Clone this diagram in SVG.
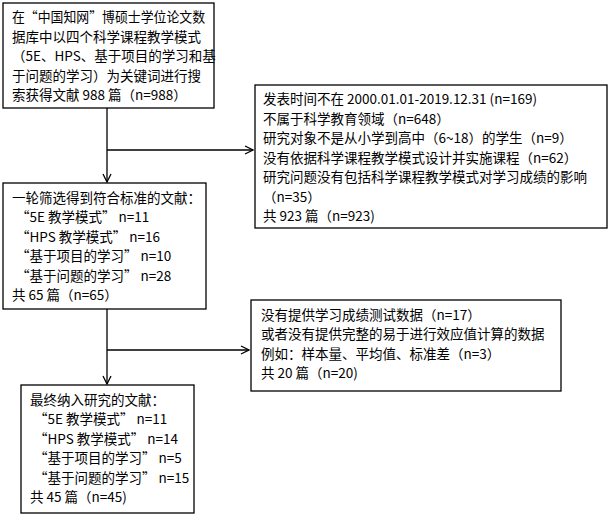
<svg xmlns="http://www.w3.org/2000/svg" width="609" height="524" viewBox="0 0 609 524">
<style>
.box{fill:#fff;stroke:#000;stroke-width:1.3}
.t{font-family:"Noto Sans CJK SC","Liberation Sans",sans-serif;font-size:13.5px;fill:#000}
.c{fill:none;stroke:#000;stroke-width:1.3}
</style>
<defs>
<marker id="ah" markerWidth="10" markerHeight="10" refX="9" refY="5" orient="auto" markerUnits="userSpaceOnUse">
<polyline points="1,1 9,5 1,9" fill="none" stroke="#000" stroke-width="1.3"/>
</marker>
</defs>
<g id="connectors">
<line class="c" x1="107" y1="108" x2="107" y2="182" marker-end="url(#ah)"/>
<line class="c" x1="107" y1="150" x2="253" y2="150" marker-end="url(#ah)"/>
<line class="c" x1="107" y1="309" x2="107" y2="384" marker-end="url(#ah)"/>
<line class="c" x1="107" y1="350" x2="249" y2="350" marker-end="url(#ah)"/>
</g>
<g id="n1">
<rect class="box" x="3" y="3" width="211" height="105"/>
<text class="t" x="12" y="22" textLength="193" lengthAdjust="spacingAndGlyphs">在“中国知网”博硕士学位论文数</text>
<text class="t" x="12" y="42">据库中以四个科学课程教学模式</text>
<text class="t" x="12" y="61">（5E、HPS、基于项目的学习和基</text>
<text class="t" x="12" y="81">于问题的学习）为关键词进行搜</text>
<text class="t" x="12" y="100">索获得文献 988 篇（n=988）</text>
</g>
<g id="n2">
<rect class="box" x="255" y="85" width="352" height="143"/>
<text class="t" x="263" y="104">发表时间不在 2000.01.01-2019.12.31 (n=169)</text>
<text class="t" x="263" y="124">不属于科学教育领域（n=648）</text>
<text class="t" x="263" y="143">研究对象不是从小学到高中（6~18）的学生（n=9）</text>
<text class="t" x="263" y="163">没有依据科学课程教学模式设计并实施课程（n=62）</text>
<text class="t" x="263" y="182">研究问题没有包括科学课程教学模式对学习成绩的影响</text>
<text class="t" x="263" y="202">（n=35）</text>
<text class="t" x="263" y="221">共 923 篇（n=923)</text>
</g>
<g id="n3">
<rect class="box" x="3" y="183" width="203" height="126"/>
<text class="t" x="12" y="203">一轮筛选得到符合标准的文献：</text>
<text class="t" x="16" y="222">“5E 教学模式” n=11</text>
<text class="t" x="16" y="242">“HPS 教学模式” n=16</text>
<text class="t" x="16" y="261">“基于项目的学习” n=10</text>
<text class="t" x="16" y="281">“基于问题的学习” n=28</text>
<text class="t" x="12" y="300">共 65 篇（n=65）</text>
</g>
<g id="n4">
<rect class="box" x="251" y="300" width="310" height="91"/>
<text class="t" x="261" y="320">没有提供学习成绩测试数据（n=17）</text>
<text class="t" x="261" y="339">或者没有提供完整的易于进行效应值计算的数据</text>
<text class="t" x="261" y="359">例如：样本量、平均值、标准差（n=3）</text>
<text class="t" x="261" y="378">共 20 篇（n=20)</text>
</g>
<g id="n5">
<rect class="box" x="21" y="385" width="173" height="128"/>
<text class="t" x="30" y="405">最终纳入研究的文献：</text>
<text class="t" x="34" y="424">“5E 教学模式” n=11</text>
<text class="t" x="34" y="444">“HPS 教学模式” n=14</text>
<text class="t" x="34" y="463">“基于项目的学习” n=5</text>
<text class="t" x="34" y="483">“基于问题的学习” n=15</text>
<text class="t" x="30" y="502">共 45 篇（n=45)</text>
</g>
</svg>
